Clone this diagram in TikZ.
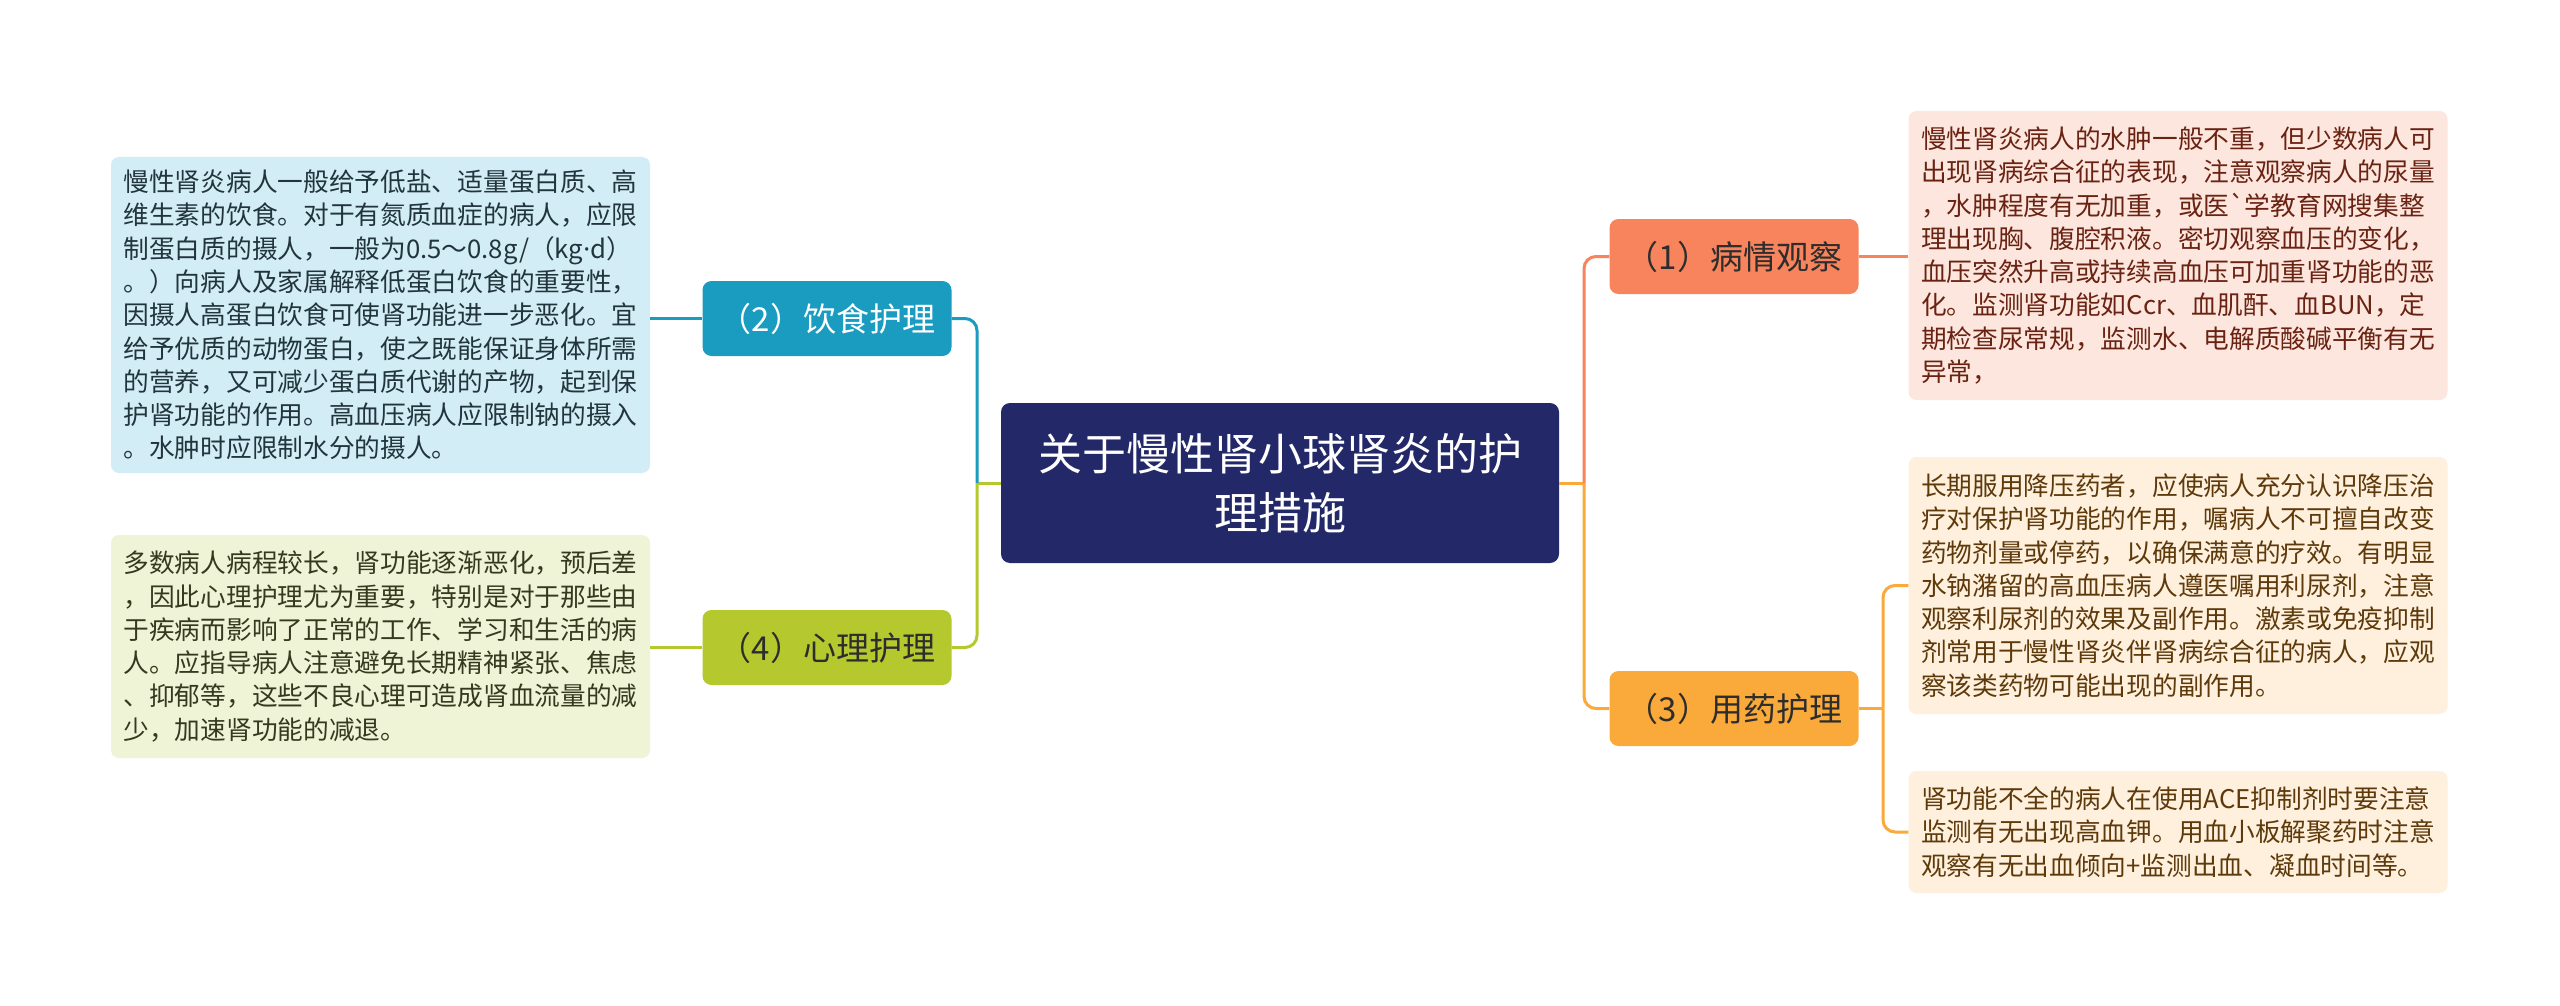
\documentclass[tikz,border=0pt]{standalone}
\usepackage{fontspec}
\newfontfamily\cjk{Noto Sans CJK SC}
\newfontfamily\latinf{Noto Sans}
\definecolor{navy}{HTML}{222868}
\definecolor{tealc}{HTML}{1A9BC0}
\definecolor{tealfill}{HTML}{D3EDF6}
\definecolor{greenc}{HTML}{B5C92F}
\definecolor{greenfill}{HTML}{EFF4D7}
\definecolor{salmon}{HTML}{F7845C}
\definecolor{salmonfill}{HTML}{FDE6DD}
\definecolor{orangec}{HTML}{F9AA3B}
\definecolor{orangefill}{HTML}{FEF0DD}
\definecolor{txtblue}{HTML}{22343C}
\definecolor{txtgreen}{HTML}{35391E}
\definecolor{txtred}{HTML}{6A2313}
\definecolor{txtbrown}{HTML}{5E3A0B}
\definecolor{txtdark}{HTML}{2D2D2D}
\begin{document}
\begin{tikzpicture}[x=1pt,y=-1pt,
  leafbox/.style={rounded corners=8pt, inner sep=0pt, align=left,
    font=\cjk\fontsize{25.7}{33.3}\selectfont, minimum width=539pt},
  childbox/.style={rounded corners=9pt, inner sep=0pt, minimum width=249pt,
    minimum height=75pt, font=\cjk\fontsize{33}{40}\selectfont},
  rootbox/.style={rounded corners=9pt, inner sep=0pt, minimum width=558pt,
    minimum height=160pt, align=center, fill=navy, text=white,
    font=\cjk\fontsize{44}{59}\selectfont},
  conn/.style={line width=3pt, rounded corners=12pt}
]
\fill[white] (0,0) rectangle (2560,1006);
\useasboundingbox (0,0) rectangle (2560,1006);

% root
\node[rootbox] (root) at (1280,483) {关于慢性肾小球肾炎的护\\理措施};

% children
\node[childbox, fill=tealc, text=white] (n2) at (827,318.5) {（2）饮食护理};
\node[childbox, fill=greenc, text=txtdark] (n4) at (827,647.5) {（4）心理护理};
\node[childbox, fill=salmon, text=txtdark] (n1) at (1734,256.5) {（1）病情观察};
\node[childbox, fill=orangec, text=txtdark] (n3) at (1734,708.5) {（3）用药护理};

% leaves
\node[leafbox, fill=tealfill, text=txtblue, minimum height=316pt] (l2) at (380.5,315) {慢性肾炎病人一般给予低盐、适量蛋白质、高\\
维生素的饮食。对于有氮质血症的病人，应限\\
制蛋白质的摄人，一般为0.5～0.8g/（kg{\latinf ·}d）\\
。）向病人及家属解释低蛋白饮食的重要性，\\
因摄人高蛋白饮食可使肾功能进一步恶化。宜\\
给予优质的动物蛋白，使之既能保证身体所需\\
的营养，又可减少蛋白质代谢的产物，起到保\\
护肾功能的作用。高血压病人应限制钠的摄入\\
。水肿时应限制水分的摄人。};

\node[leafbox, fill=greenfill, text=txtgreen, minimum height=223pt] (l4) at (380.5,646.5) {多数病人病程较长，肾功能逐渐恶化，预后差\\
，因此心理护理尤为重要，特别是对于那些由\\
于疾病而影响了正常的工作、学习和生活的病\\
人。应指导病人注意避免长期精神紧张、焦虑\\
、抑郁等，这些不良心理可造成肾血流量的减\\
少，加速肾功能的减退。};

\node[leafbox, fill=salmonfill, text=txtred, minimum height=289pt] (l1) at (2178,255.5) {慢性肾炎病人的水肿一般不重，但少数病人可\\
出现肾病综合征的表现，注意观察病人的尿量\\
，水肿程度有无加重，或医`学教育网搜集整\\
理出现胸、腹腔积液。密切观察血压的变化，\\
血压突然升高或持续高血压可加重肾功能的恶\\
化。监测肾功能如Ccr、血肌酐、血BUN，定\\
期检查尿常规，监测水、电解质酸碱平衡有无\\
异常，};

\node[leafbox, fill=orangefill, text=txtbrown, minimum height=257pt] (l3a) at (2178,585.5) {长期服用降压药者，应使病人充分认识降压治\\
疗对保护肾功能的作用，嘱病人不可擅自改变\\
药物剂量或停药，以确保满意的疗效。有明显\\
水钠潴留的高血压病人遵医嘱用利尿剂，注意\\
观察利尿剂的效果及副作用。激素或免疫抑制\\
剂常用于慢性肾炎伴肾病综合征的病人，应观\\
察该类药物可能出现的副作用。};

\node[leafbox, fill=orangefill, text=txtbrown, minimum height=122pt] (l3b) at (2178,832) {肾功能不全的病人在使用ACE抑制剂时要注意\\
监测有无出现高血钾。用血小板解聚药时注意\\
观察有无出血倾向+监测出血、凝血时间等。};

% junctions
\coordinate (jl) at (977,483);
\coordinate (jr) at (1584,483);
\coordinate (j3) at (1883,708.5);

% connectors left
\draw[conn, greenc] (root.west) -- (jl);
\draw[conn, tealc] (jl) |- (n2.east);
\draw[conn, greenc] (jl) |- (n4.east);
\draw[conn, tealc] (n2.west) -- (n2.west -| l2.east);
\draw[conn, greenc] (n4.west) -- (n4.west -| l4.east);

% connectors right
\draw[conn, orangec] (root.east) -- (jr);
\draw[conn, salmon] (jr) |- (n1.west);
\draw[conn, orangec] (jr) |- (n3.west);
\draw[conn, salmon] (n1.east) -- (n1.east -| l1.west);
\draw[conn, orangec] (n3.east) -- (j3);
\draw[conn, orangec] (j3) |- (l3a.west);
\draw[conn, orangec] (j3) |- (l3b.west);
\end{tikzpicture}
\end{document}
